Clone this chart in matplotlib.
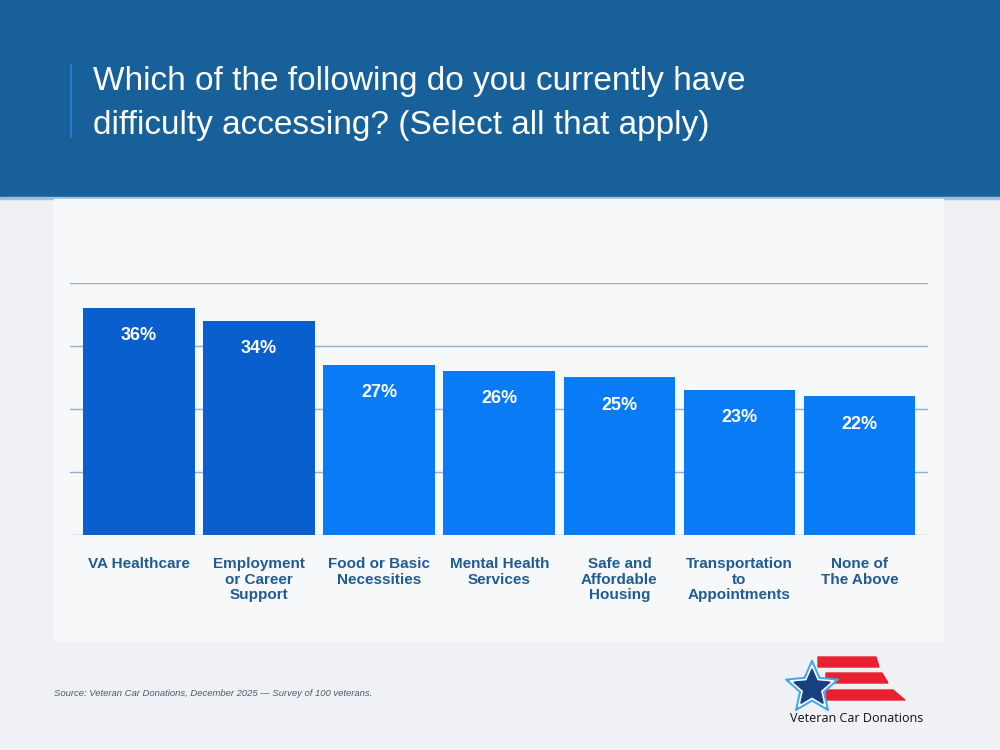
import matplotlib
matplotlib.use('Agg')
import matplotlib.pyplot as plt
import numpy as np
from matplotlib.patches import Rectangle, Polygon

categories = ['VA Healthcare', 'Employment\nor Career\nSupport', 'Food or Basic\nNecessities',
              'Mental Health\nServices', 'Safe and\nAffordable\nHousing', 'Transportation\nto\nAppointments',
              'None of\nThe Above']
values = [36, 34, 27, 26, 25, 23, 22]
highlight = [True, True, False, False, False, False, False]

TITLE = 'Which of the following do you currently have\ndifficulty accessing? (Select all that apply)'
SOURCE = 'Source: Veteran Car Donations, December 2025 \u2014 Survey of 100 veterans.'

BG = '#f0f1f4'
HEADER = '#17609a'
PANEL = '#f7f8fa'
DARK_BAR = '#0a5fcf'
LIGHT_BAR = '#0a7bf7'
GRID = '#8fb0d2'
LABEL = '#1f5c93'

plt.rcParams['font.family'] = ['Liberation Sans', 'DejaVu Sans']

fig = plt.figure(figsize=(10, 7.5), dpi=100, facecolor=BG)

# background layer in pixel coords
bg = fig.add_axes([0, 0, 1, 1], zorder=0)
bg.set_xlim(0, 1000)
bg.set_ylim(750, 0)
bg.axis('off')
bg.add_patch(Rectangle((0, 0), 1000, 198, color=HEADER))
bg.add_patch(Rectangle((0, 197), 1000, 1.5, color='#9cc0e0'))
bg.add_patch(Rectangle((54, 199), 889, 441, color=PANEL))
bg.plot([71, 71], [65, 137], color='#2a78c8', lw=1.5)
bg.text(93, 66, TITLE, color='white', fontsize=24, va='top', ha='left', linespacing=1.55)
bg.text(54, 693, SOURCE, color='#4a5a70', fontsize=6.8, style='italic', va='center')

# logo
def star(cx, cy, r_out, r_in):
    ang = np.deg2rad(-90 + np.arange(10) * 36)
    r = np.where(np.arange(10) % 2 == 0, r_out, r_in)
    return np.column_stack([cx + r * np.cos(ang), cy + r * np.sin(ang)])

red = '#e8202f'
bg.add_patch(Polygon([(818, 657), (876, 657), (879, 667), (818, 667)], color=red))
bg.add_patch(Polygon([(826, 673), (882, 673), (888, 683), (826, 683)], color=red))
bg.add_patch(Polygon([(826, 690), (893, 690), (905, 700), (826, 700)], color=red))
bg.add_patch(Polygon(star(812, 688, 28, 13), color='#45a8ee'))
bg.add_patch(Polygon(star(812, 688, 23, 10.5), color='white'))
bg.add_patch(Polygon(star(812, 688, 19, 8.7), color='#17407e'))
bg.text(857, 718, 'Veteran Car Donations', color='#111111', fontsize=9,
        family=['Open Sans', 'DejaVu Sans'], ha='center', va='center')

# chart
ax = fig.add_axes([0.07, 0.2867, 0.858, 0.336], zorder=1)
ax.set_facecolor('none')
x = np.arange(len(categories))
colors = [DARK_BAR if h else LIGHT_BAR for h in highlight]
bars = ax.bar(x, values, width=0.93, color=colors, zorder=2)
ax.set_xlim(-0.575, len(categories) - 0.43)
ax.set_ylim(0, 40)
ax.set_yticks([0, 10, 20, 30, 40])
ax.yaxis.grid(True, color=GRID, lw=1, zorder=0)
ax.set_yticklabels([])
ax.tick_params(length=0)
for s in ax.spines.values():
    s.set_visible(False)
ax.set_xticks(x)
ax.set_xticklabels(categories, color=LABEL, fontsize=11, fontweight='bold', linespacing=1.12)
ax.tick_params(axis='x', pad=16)
for b, v in zip(bars, values):
    ax.annotate('%d%%' % v, (b.get_x() + b.get_width() / 2, v), xytext=(0, -20),
                textcoords='offset points', ha='center', va='center', color='white',
                fontsize=13, fontweight='bold')

fig.savefig('out.png', dpi=100, facecolor=BG)
